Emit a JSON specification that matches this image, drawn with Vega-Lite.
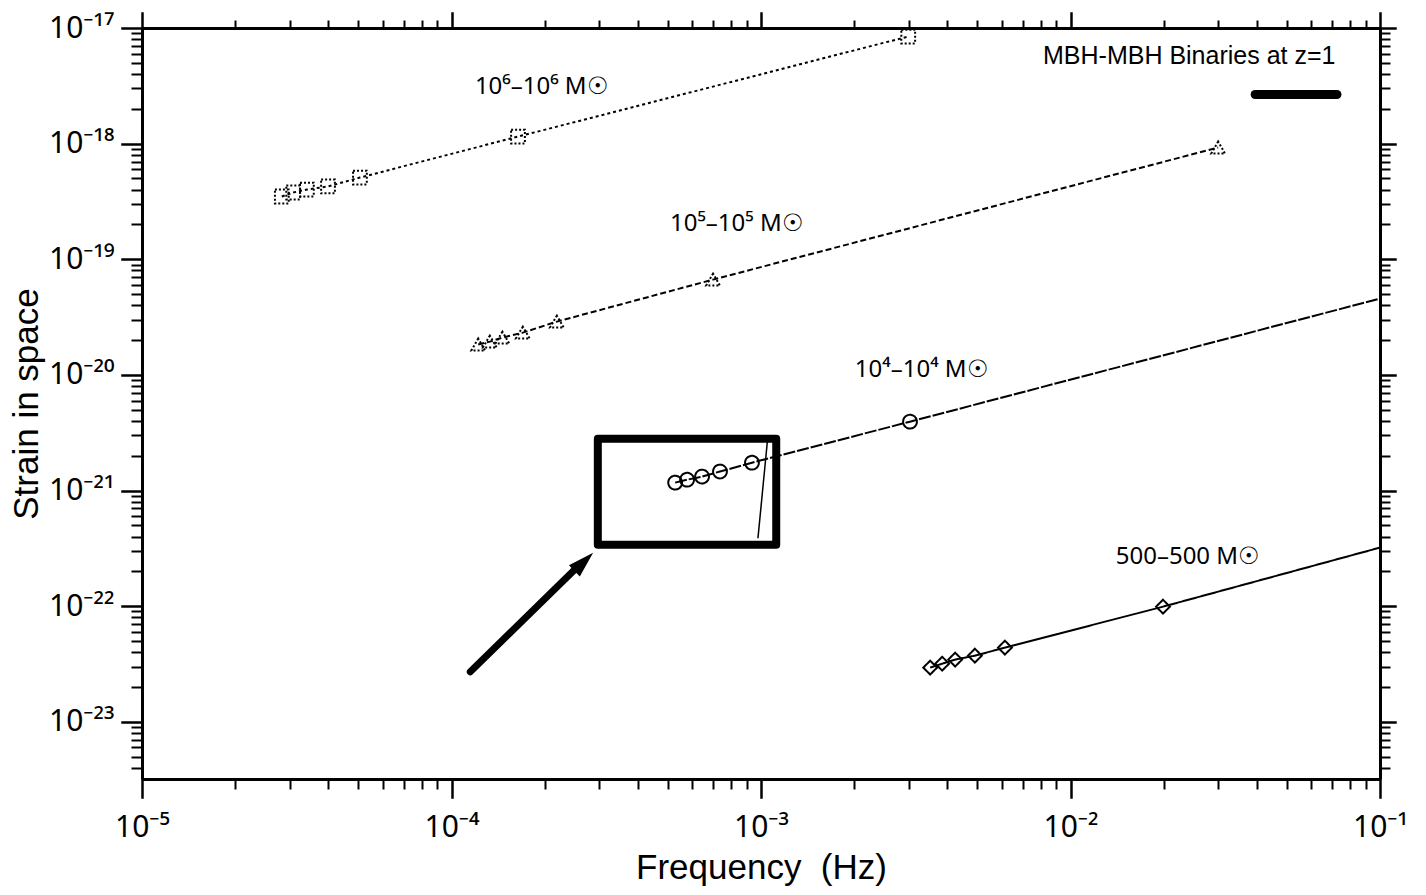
{
  "$schema": "https://vega.github.io/schema/vega-lite/v6.json",
  "width": 1238,
  "height": 751,
  "autosize": {"type": "none"},
  "padding": {"left": 142, "top": 28, "right": 46, "bottom": 116},
  "background": "white",
  "config": {
    "view": {"stroke": null},
    "font": "Liberation Sans",
    "axis": {"grid": false, "tickColor": "black", "domainColor": "black", "labelColor": "black", "titleColor": "black", "titleFontWeight": "normal", "labelFlush": false, "labelOverlap": false, "tickCap": "square", "labelFont": "Noto Sans"}
  },
  "datasets": {
    "curves": [
      {"series": "1e6", "f": 2.83e-5, "h": 3.49e-19, "marker": true},
      {"series": "1e6", "f": 3.08e-5, "h": 3.78e-19, "marker": true},
      {"series": "1e6", "f": 3.41e-5, "h": 4.01e-19, "marker": true},
      {"series": "1e6", "f": 3.99e-5, "h": 4.26e-19, "marker": true},
      {"series": "1e6", "f": 5.06e-5, "h": 5.09e-19, "marker": true},
      {"series": "1e6", "f": 1.64e-4, "h": 1.15e-18, "marker": true},
      {"series": "1e6", "f": 2.99e-3, "h": 8.44e-18, "marker": true},
      {"series": "1e5", "f": 1.22e-4, "h": 1.83e-20, "marker": true},
      {"series": "1e5", "f": 1.33e-4, "h": 1.94e-20, "marker": true},
      {"series": "1e5", "f": 1.46e-4, "h": 2.10e-20, "marker": true},
      {"series": "1e5", "f": 1.70e-4, "h": 2.32e-20, "marker": true},
      {"series": "1e5", "f": 2.19e-4, "h": 2.89e-20, "marker": true},
      {"series": "1e5", "f": 7.00e-4, "h": 6.67e-20, "marker": true},
      {"series": "1e5", "f": 3.00e-2, "h": 9.25e-19, "marker": true},
      {"series": "1e4", "f": 5.28e-4, "h": 1.17e-21, "marker": true},
      {"series": "1e4", "f": 5.77e-4, "h": 1.24e-21, "marker": true},
      {"series": "1e4", "f": 6.45e-4, "h": 1.32e-21, "marker": true},
      {"series": "1e4", "f": 7.37e-4, "h": 1.46e-21, "marker": true},
      {"series": "1e4", "f": 9.35e-4, "h": 1.74e-21, "marker": true},
      {"series": "1e4", "f": 3.03e-3, "h": 3.94e-21, "marker": true},
      {"series": "1e4", "f": 1.0e-1, "h": 4.57e-20, "marker": false},
      {"series": "500", "f": 3.52e-3, "h": 2.94e-23, "marker": true},
      {"series": "500", "f": 3.85e-3, "h": 3.18e-23, "marker": true},
      {"series": "500", "f": 4.24e-3, "h": 3.45e-23, "marker": true},
      {"series": "500", "f": 4.91e-3, "h": 3.73e-23, "marker": true},
      {"series": "500", "f": 6.14e-3, "h": 4.38e-23, "marker": true},
      {"series": "500", "f": 1.99e-2, "h": 9.90e-23, "marker": true},
      {"series": "500", "f": 1.0e-1, "h": 3.21e-22, "marker": false}
    ],
    "labels": [
      {"f": 1.19e-4, "h": 3.06e-18, "text": "10⁶–10⁶ M☉"},
      {"f": 5.08e-4, "h": 2.0e-19, "text": "10⁵–10⁵ M☉"},
      {"f": 2.01e-3, "h": 1.11e-20, "text": "10⁴–10⁴ M☉"},
      {"f": 1.40e-2, "h": 2.68e-22, "text": "500–500 M☉"}
    ],
    "heading": [
      {"f": 8.15e-3, "h": 5.67e-18, "text": "MBH-MBH Binaries at z=1"}
    ],
    "box": [
      {"f1": 2.97e-4, "f2": 1.12e-3, "h1": 2.81e-21, "h2": 3.40e-22}
    ],
    "strokes": [
      {"name": "arrow", "f1": 1.15e-4, "h1": 2.71e-23, "f2": 2.60e-4, "h2": 2.29e-22},
      {"name": "bar", "f1": 3.95e-2, "h1": 2.66e-18, "f2": 7.26e-2, "h2": 2.66e-18},
      {"name": "pen", "f1": 1.05e-3, "h1": 2.76e-21, "f2": 9.78e-4, "h2": 3.91e-22}
    ],
    "arrowhead": [
      {"f": 2.66e-4, "h": 2.38e-22}
    ]
  },
  "layer": [
    {
      "data": {"name": "curves"},
      "mark": {"type": "line", "color": "black"},
      "encoding": {
        "x": {"field": "f", "type": "quantitative", "scale": {"type": "log", "domain": [1e-5, 0.1], "nice": false},
          "axis": {"orient": "bottom", "values": [1e-5, 1e-4, 1e-3, 1e-2, 1e-1],
            "labelExpr": "['10⁻⁵','10⁻⁴','10⁻³','10⁻²','10⁻¹'][round(log(datum.value)/LN10)+5]",
            "tickSize": 18, "tickWidth": 2.5, "domainWidth": 3, "labelFontSize": 30, "labelPadding": 15,
            "title": "Frequency\u00a0\u00a0(Hz)", "titleFontSize": 35, "titlePadding": 8}},
        "y": {"field": "h", "type": "quantitative", "scale": {"type": "log", "domain": [3.2e-24, 1e-17], "nice": false},
          "axis": {"orient": "left", "values": [1e-23, 1e-22, 1e-21, 1e-20, 1e-19, 1e-18, 1e-17],
            "labelExpr": "['10⁻²³','10⁻²²','10⁻²¹','10⁻²⁰','10⁻¹⁹','10⁻¹⁸','10⁻¹⁷'][round(log(datum.value)/LN10)+23]",
            "tickSize": 20, "tickWidth": 2.5, "domainWidth": 3, "labelFontSize": 30, "labelPadding": 8,
            "title": "Strain in space", "titleFontSize": 35, "titlePadding": 4}},
        "detail": {"field": "series"},
        "strokeDash": {"field": "series", "type": "nominal", "scale": {"domain": ["1e6", "1e5", "1e4", "500"], "range": [[3, 3], [6, 3], [12, 2], [1, 0]]}, "legend": null},
        "strokeWidth": {"field": "series", "type": "nominal", "scale": {"domain": ["1e6", "1e5", "1e4", "500"], "range": [2, 2, 2, 3]}, "legend": null}
      }
    },
    {
      "data": {"name": "curves"},
      "transform": [{"filter": "datum.marker"}],
      "mark": {"type": "point", "filled": false, "color": "black", "size": 190, "opacity": 1},
      "encoding": {
        "x": {"field": "f", "type": "quantitative", "scale": {"type": "log", "domain": [1e-5, 0.1], "nice": false},
          "axis": {"orient": "bottom", "labels": false, "domain": false, "title": null, "tickSize": 9, "tickWidth": 2,
            "values": [2e-5, 3e-5, 4e-5, 5e-5, 6e-5, 7e-5, 8e-5, 9e-5, 2e-4, 3e-4, 4e-4, 5e-4, 6e-4, 7e-4, 8e-4, 9e-4, 2e-3, 3e-3, 4e-3, 5e-3, 6e-3, 7e-3, 8e-3, 9e-3, 2e-2, 3e-2, 4e-2, 5e-2, 6e-2, 7e-2, 8e-2, 9e-2]}},
        "y": {"field": "h", "type": "quantitative", "scale": {"type": "log", "domain": [3.2e-24, 1e-17], "nice": false},
          "axis": {"orient": "left", "labels": false, "domain": false, "title": null, "tickSize": 10, "tickWidth": 2,
            "values": [4e-24, 5e-24, 6e-24, 7e-24, 8e-24, 9e-24, 2e-23, 3e-23, 4e-23, 5e-23, 6e-23, 7e-23, 8e-23, 9e-23, 2e-22, 3e-22, 4e-22, 5e-22, 6e-22, 7e-22, 8e-22, 9e-22, 2e-21, 3e-21, 4e-21, 5e-21, 6e-21, 7e-21, 8e-21, 9e-21, 2e-20, 3e-20, 4e-20, 5e-20, 6e-20, 7e-20, 8e-20, 9e-20, 2e-19, 3e-19, 4e-19, 5e-19, 6e-19, 7e-19, 8e-19, 9e-19, 2e-18, 3e-18, 4e-18, 5e-18, 6e-18, 7e-18, 8e-18, 9e-18]}},
        "shape": {"field": "series", "type": "nominal", "scale": {"domain": ["1e6", "1e5", "1e4", "500"], "range": ["square", "triangle-up", "circle", "diamond"]}, "legend": null},
        "strokeDash": {"field": "series", "type": "nominal", "scale": {"domain": ["1e6", "1e5", "1e4", "500"], "range": [[2, 2], [2, 2], [1, 0], [1, 0]]}, "legend": null},
        "strokeWidth": {"field": "series", "type": "nominal", "scale": {"domain": ["1e6", "1e5", "1e4", "500"], "range": [2, 2, 2, 3]}, "legend": null}
      }
    },
    {
      "data": {"name": "labels"},
      "mark": {"type": "text", "align": "left", "baseline": "middle", "fontSize": 24, "font": "Noto Sans", "color": "black"},
      "encoding": {
        "x": {"field": "f", "type": "quantitative", "scale": {"type": "log", "domain": [1e-5, 0.1], "nice": false},
          "axis": {"orient": "top", "labels": false, "title": null, "tickSize": 15, "tickWidth": 2.5, "domainWidth": 3,
            "values": [1e-5, 1e-4, 1e-3, 1e-2, 1e-1]}},
        "y": {"field": "h", "type": "quantitative", "scale": {"type": "log", "domain": [3.2e-24, 1e-17], "nice": false},
          "axis": {"orient": "right", "labels": false, "title": null, "tickSize": 15, "tickWidth": 2.5, "domainWidth": 3,
            "values": [1e-23, 1e-22, 1e-21, 1e-20, 1e-19, 1e-18, 1e-17]}},
        "text": {"field": "text"}
      }
    },
    {
      "data": {"name": "box"},
      "mark": {"type": "rect", "filled": false, "stroke": "black", "strokeWidth": 8, "strokeJoin": "round"},
      "encoding": {
        "x": {"field": "f1", "type": "quantitative", "scale": {"type": "log", "domain": [1e-5, 0.1], "nice": false},
          "axis": {"orient": "top", "labels": false, "domain": false, "title": null, "tickSize": 7, "tickWidth": 2,
            "values": [2e-5, 3e-5, 4e-5, 5e-5, 6e-5, 7e-5, 8e-5, 9e-5, 2e-4, 3e-4, 4e-4, 5e-4, 6e-4, 7e-4, 8e-4, 9e-4, 2e-3, 3e-3, 4e-3, 5e-3, 6e-3, 7e-3, 8e-3, 9e-3, 2e-2, 3e-2, 4e-2, 5e-2, 6e-2, 7e-2, 8e-2, 9e-2]}},
        "x2": {"field": "f2"},
        "y": {"field": "h1", "type": "quantitative", "scale": {"type": "log", "domain": [3.2e-24, 1e-17], "nice": false},
          "axis": {"orient": "right", "labels": false, "domain": false, "title": null, "tickSize": 9, "tickWidth": 2,
            "values": [4e-24, 5e-24, 6e-24, 7e-24, 8e-24, 9e-24, 2e-23, 3e-23, 4e-23, 5e-23, 6e-23, 7e-23, 8e-23, 9e-23, 2e-22, 3e-22, 4e-22, 5e-22, 6e-22, 7e-22, 8e-22, 9e-22, 2e-21, 3e-21, 4e-21, 5e-21, 6e-21, 7e-21, 8e-21, 9e-21, 2e-20, 3e-20, 4e-20, 5e-20, 6e-20, 7e-20, 8e-20, 9e-20, 2e-19, 3e-19, 4e-19, 5e-19, 6e-19, 7e-19, 8e-19, 9e-19, 2e-18, 3e-18, 4e-18, 5e-18, 6e-18, 7e-18, 8e-18, 9e-18]}},
        "y2": {"field": "h2"}
      }
    },
    {
      "data": {"name": "heading"},
      "mark": {"type": "text", "align": "left", "baseline": "middle", "fontSize": 25, "color": "black"},
      "encoding": {
        "x": {"field": "f", "type": "quantitative", "scale": {"type": "log", "domain": [1e-5, 0.1], "nice": false}, "axis": null},
        "y": {"field": "h", "type": "quantitative", "scale": {"type": "log", "domain": [3.2e-24, 1e-17], "nice": false}, "axis": null},
        "text": {"field": "text"}
      }
    },
    {
      "data": {"name": "strokes"},
      "transform": [{"filter": "datum.name == 'arrow'"}],
      "mark": {"type": "rule", "color": "black", "strokeCap": "round", "strokeWidth": 7},
      "encoding": {
        "x": {"field": "f1", "type": "quantitative", "scale": {"type": "log", "domain": [1e-5, 0.1], "nice": false}, "axis": null},
        "x2": {"field": "f2"},
        "y": {"field": "h1", "type": "quantitative", "scale": {"type": "log", "domain": [3.2e-24, 1e-17], "nice": false}, "axis": null},
        "y2": {"field": "h2"}
      }
    },
    {
      "data": {"name": "strokes"},
      "transform": [{"filter": "datum.name == 'bar'"}],
      "mark": {"type": "rule", "color": "black", "strokeCap": "round", "strokeWidth": 9},
      "encoding": {
        "x": {"field": "f1", "type": "quantitative", "scale": {"type": "log", "domain": [1e-5, 0.1], "nice": false}, "axis": null},
        "x2": {"field": "f2"},
        "y": {"field": "h1", "type": "quantitative", "scale": {"type": "log", "domain": [3.2e-24, 1e-17], "nice": false}, "axis": null},
        "y2": {"field": "h2"}
      }
    },
    {
      "data": {"name": "strokes"},
      "transform": [{"filter": "datum.name == 'pen'"}],
      "mark": {"type": "rule", "color": "black", "strokeCap": "round", "strokeWidth": 1.5},
      "encoding": {
        "x": {"field": "f1", "type": "quantitative", "scale": {"type": "log", "domain": [1e-5, 0.1], "nice": false}, "axis": null},
        "x2": {"field": "f2"},
        "y": {"field": "h1", "type": "quantitative", "scale": {"type": "log", "domain": [3.2e-24, 1e-17], "nice": false}, "axis": null},
        "y2": {"field": "h2"}
      }
    },
    {
      "data": {"name": "arrowhead"},
      "mark": {"type": "point", "shape": "M0,-1L-0.55,0.85L0.55,0.85Z", "filled": true, "color": "black", "size": 800, "angle": 46, "opacity": 1},
      "encoding": {
        "x": {"field": "f", "type": "quantitative", "scale": {"type": "log", "domain": [1e-5, 0.1], "nice": false}, "axis": null},
        "y": {"field": "h", "type": "quantitative", "scale": {"type": "log", "domain": [3.2e-24, 1e-17], "nice": false}, "axis": null}
      }
    }
  ],
  "resolve": {
    "axis": {"x": "independent", "y": "independent"},
    "scale": {"strokeDash": "independent"}
  }
}
